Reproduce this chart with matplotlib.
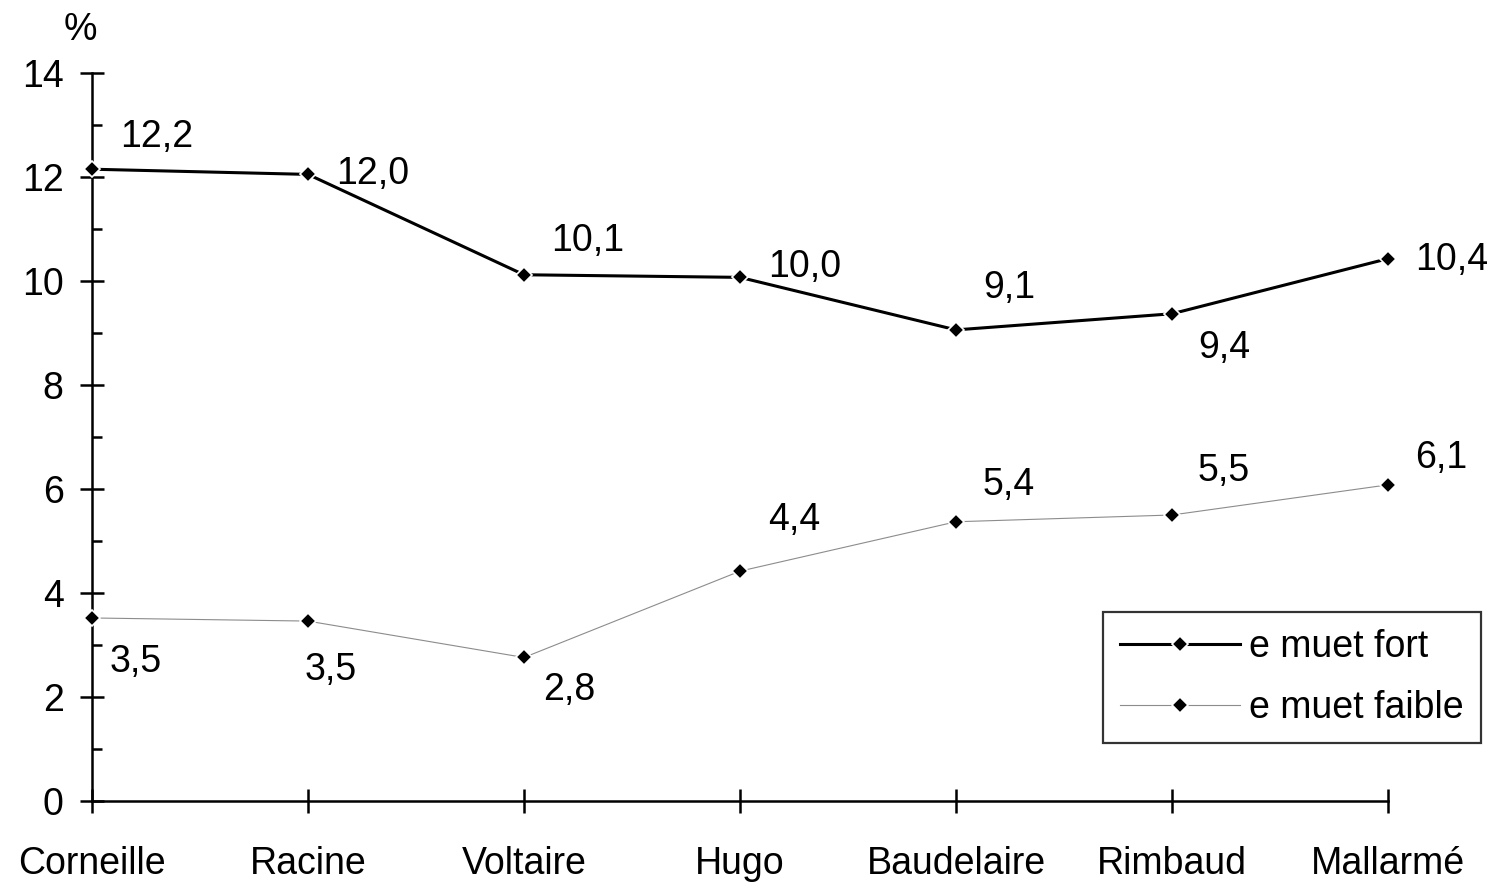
import matplotlib
matplotlib.use("Agg")
import matplotlib.pyplot as plt
from matplotlib.ticker import MultipleLocator

plt.rcParams['font.family'] = ['Liberation Sans', 'DejaVu Sans']

categories = ["Corneille", "Racine", "Voltaire", "Hugo", "Baudelaire", "Rimbaud", "Mallarmé"]
fort = [12.15, 12.05, 10.12, 10.07, 9.06, 9.37, 10.43]
faible = [3.52, 3.46, 2.76, 4.42, 5.37, 5.5, 6.08]
fort_labels = ["12,2", "12,0", "10,1", "10,0", "9,1", "9,4", "10,4"]
faible_labels = ["3,5", "3,5", "2,8", "4,4", "5,4", "5,5", "6,1"]

W, H = 1491, 883
fig = plt.figure(figsize=(W / 100, H / 100), dpi=100)
ax = fig.add_axes([92 / W, (H - 801) / H, (1388 - 92) / W, (801 - 73) / H])

x = list(range(len(categories)))
fs = 27

ax.plot(x, fort, color='black', lw=2.2, marker='D', ms=8, mfc='black', mec='white', mew=1.2,
        label='e muet fort', zorder=3, clip_on=False)
ax.plot(x, faible, color='#8c8c8c', lw=0.8, marker='D', ms=8, mfc='black', mec='white', mew=1.2,
        label='e muet faible', zorder=3, clip_on=False)

fort_off = [(28, 32), (28, 0), (27, 34), (28, 10), (27, 42), (26, -34), (27, -1)]
faible_off = [(18, -44), (-3, -49), (19, -33), (28, 51), (27, 37), (26, 44), (27, 27)]
for xi, yi, t, o in zip(x, fort, fort_labels, fort_off):
    ax.annotate(t, (xi, yi), xytext=o, textcoords='offset pixels', ha='left', va='center',
                fontsize=fs, annotation_clip=False)
for xi, yi, t, o in zip(x, faible, faible_labels, faible_off):
    ax.annotate(t, (xi, yi), xytext=o, textcoords='offset pixels', ha='left', va='center',
                fontsize=fs, annotation_clip=False)

ax.set_xlim(0, 6)
ax.set_ylim(0, 14)
ax.set_xticks(x)
ax.set_xticklabels(categories, fontsize=fs)
ax.yaxis.set_major_locator(MultipleLocator(2))
ax.yaxis.set_minor_locator(MultipleLocator(1))
ax.tick_params(axis='y', which='major', direction='inout', length=17, width=1.8, labelsize=fs, pad=12)
ax.tick_params(axis='y', which='minor', direction='in', length=7, width=1.8)
ax.tick_params(axis='x', which='major', direction='inout', length=17, width=1.8, labelsize=fs, pad=24)
ax.tick_params(axis='x', which='minor', bottom=False)

for s in ['top', 'right']:
    ax.spines[s].set_visible(False)
for s in ['left', 'bottom']:
    ax.spines[s].set_linewidth(1.8)

fig.text(80 / W, (H - 30) / H, '%', fontsize=fs, ha='center', va='center')

leg = ax.legend(loc='upper left', bbox_to_anchor=(1103 / W, (H - 612) / H),
                bbox_transform=fig.transFigure, fontsize=fs, frameon=True, fancybox=False,
                edgecolor='black', handlelength=3.2, handletextpad=0.25, labelspacing=0.68,
                borderpad=0.45, borderaxespad=0)
leg.get_frame().set_linewidth(1.6)

fig.savefig('out.png', dpi=100, facecolor='white')
